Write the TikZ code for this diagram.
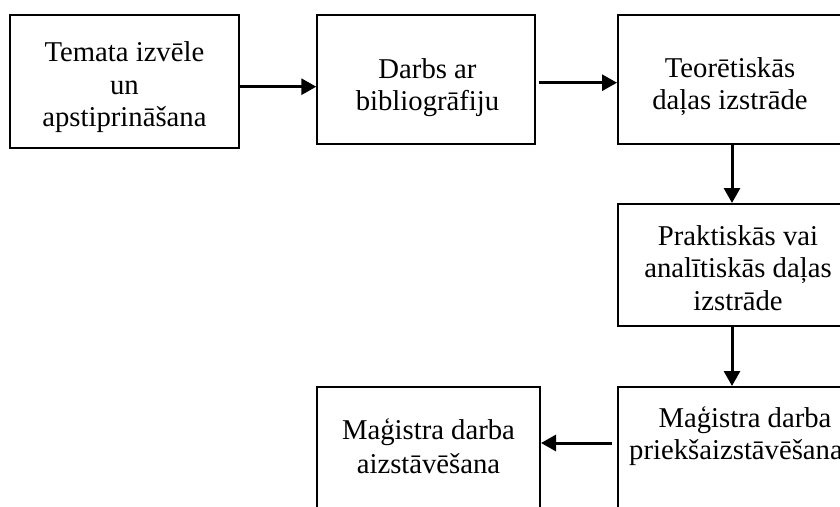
\documentclass[tikz,border=0pt]{standalone}
\usepackage{fontspec}
\setmainfont{Liberation Serif}
\usetikzlibrary{arrows.meta}
\begin{document}
\begin{tikzpicture}[x=1pt,y=-1pt,
  box/.style={draw, line width=2pt, rectangle, inner sep=0pt},
  txt/.style={anchor=north, inner sep=0pt, align=center, font=\fontsize{28.7}{32.5}\selectfont},
  arr/.style={line width=3pt, -{Triangle[length=15pt,width=16pt]}}]
\useasboundingbox (0,0) rectangle (840,506);
\clip (0,0) rectangle (840,506);
\fill[white] (0,0) rectangle (840,506);
% boxes
\node[box, minimum width=229.8pt, minimum height=133pt] (b1) at (124.4,81.2) {};
\node[box, minimum width=218pt, minimum height=129.6pt] (b2) at (426.3,79.5) {};
\node[box, minimum width=229pt, minimum height=129.6pt] (b3) at (732.5,79.5) {};
\node[box, minimum width=229pt, minimum height=122pt] (b4) at (732.5,265) {};
\node[box, minimum width=229pt, minimum height=140pt] (b5) at (732.5,457) {};
\node[box, minimum width=223pt, minimum height=140pt] (b6) at (428.5,457) {};
% texts
\node[txt] (t1) at (124.4,38.95) {\strut Temata izvēle\\un\\apstiprināšana};
\node[txt] (t2) at (427.5,55.45) {\strut Darbs ar\\bibliogrāfiju};
\node[txt] (t3) at (730,54.15) {\strut Teorētiskās\\daļas izstrāde};
\node[txt] (t4) at (738,222.25) {\strut Praktiskās vai\\analītiskās daļas\\izstrāde};
\node[txt] (t5) at (736,404.25) {\strut\hspace*{18pt}Maģistra darba\\priekšaizstāvēšana};
\node[txt, font=\fontsize{28.7}{34}\selectfont] (t6) at (428.5,415.2) {\strut Maģistra darba\\aizstāvēšana};
% connectors
\draw[arr] ([yshift=-5.5pt]b1.east) -- ([yshift=-5.5pt]b1.east -| b2.west);
\draw[arr] ([xshift=3pt,yshift=-3.2pt]b2.east) -- ([yshift=-3.2pt]b2.east -| b3.west);
\draw[arr] ([xshift=-0.5pt]b3.south) -- ([xshift=-0.5pt]b4.north);
\draw[arr] ([xshift=-0.5pt]b4.south) -- ([xshift=-0.5pt]b5.north);
\draw[arr] ([xshift=-5pt,yshift=14pt]b5.west) -- ([yshift=14pt]b6.east);
\end{tikzpicture}
\end{document}
